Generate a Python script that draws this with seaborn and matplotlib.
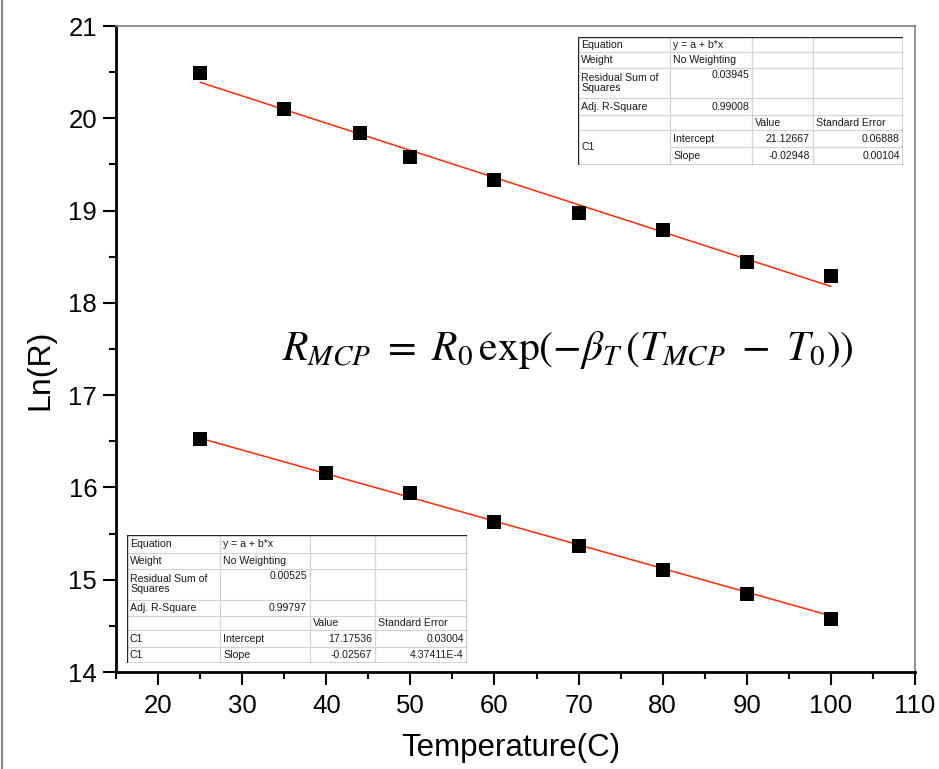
import numpy as np
import pandas as pd
import matplotlib
matplotlib.use("Agg")
import matplotlib.pyplot as plt
import seaborn as sns
from matplotlib import font_manager
from matplotlib.ticker import MultipleLocator
from matplotlib.lines import Line2D
from matplotlib.patches import Rectangle

# ---------------- data ----------------
temp_upper = [25, 35, 44, 50, 60, 70, 80, 90, 100]
lnr_upper = [20.49, 20.10, 19.84, 19.58, 19.33, 18.97, 18.79, 18.44, 18.29]
temp_lower = [25, 40, 50, 60, 70, 80, 90, 100]
lnr_lower = [16.52, 16.16, 15.935, 15.62, 15.36, 15.10, 14.84, 14.57]

fit_upper = (21.12667, -0.02948)   # intercept, slope
fit_lower = (17.17536, -0.02567)
fit_range = [25, 100]

x_ticks = [20, 30, 40, 50, 60, 70, 80, 90, 100, 110]
y_ticks = [14, 15, 16, 17, 18, 19, 20, 21]

x_label = "Temperature(C)"
y_label = "Ln(R)"
formula = (r"$R_{MCP}\ =\ R_0\,\mathrm{exp}\left(-\beta_T\,(T_{MCP}\ -\ T_0)\right)$")

table_upper = [
    ["Equation", "y = a + b*x", "", ""],
    ["Weight", "No Weighting", "", ""],
    ["Residual Sum of\nSquares", "0.03945", "", ""],
    ["Adj. R-Square", "0.99008", "", ""],
    ["", "", "Value", "Standard Error"],
    ["C1", "Intercept", "21.12667", "0.06888"],
    ["", "Slope", "-0.02948", "0.00104"],
]
table_lower = [
    ["Equation", "y = a + b*x", "", ""],
    ["Weight", "No Weighting", "", ""],
    ["Residual Sum of\nSquares", "0.00525", "", ""],
    ["Adj. R-Square", "0.99797", "", ""],
    ["", "", "Value", "Standard Error"],
    ["C1", "Intercept", "17.17536", "0.03004"],
    ["C1", "Slope", "-0.02567", "4.37411E-4"],
]

# ---------------- style ----------------
sns.set_theme(style="white")
names = {f.name for f in font_manager.fontManager.ttflist}
narrow = "Liberation Sans Narrow" if "Liberation Sans Narrow" in names else None
plt.rcParams["font.family"] = ["Liberation Sans", "DejaVu Sans"]
plt.rcParams["mathtext.fontset"] = "stix"

FW, FH = 939, 769
fig = plt.figure(figsize=(FW / 100, FH / 100), dpi=100)
ax = fig.add_axes([116 / FW, 1 - 672 / FH, (915 - 116) / FW, (672 - 26) / FH])

df_u = pd.DataFrame({"T": temp_upper, "L": lnr_upper})
df_l = pd.DataFrame({"T": temp_lower, "L": lnr_lower})
fx = np.array(fit_range, dtype=float)
df_fu = pd.DataFrame({"T": fx, "L": fit_upper[0] + fit_upper[1] * fx})
df_fl = pd.DataFrame({"T": fx, "L": fit_lower[0] + fit_lower[1] * fx})

red = "#FF2A00"
sns.lineplot(data=df_fu, x="T", y="L", ax=ax, color=red, lw=1.1, zorder=2)
sns.lineplot(data=df_fl, x="T", y="L", ax=ax, color=red, lw=1.1, zorder=2)
sns.scatterplot(data=df_u, x="T", y="L", ax=ax, marker="s", s=105, color="black",
                linewidth=0, zorder=3)
sns.scatterplot(data=df_l, x="T", y="L", ax=ax, marker="s", s=105, color="black",
                linewidth=0, zorder=3)

ax.set_xlim(15, 110)
ax.set_ylim(14, 21)
ax.set_xticks(x_ticks)
ax.set_yticks(y_ticks)
ax.xaxis.set_minor_locator(MultipleLocator(5))
ax.yaxis.set_minor_locator(MultipleLocator(0.5))
ax.tick_params(axis="both", which="major", direction="out", length=9.5, width=1.5,
               color="black", bottom=True, left=True, top=False, right=False)
ax.tick_params(axis="both", which="minor", direction="out", length=4.8, width=1.5,
               color="black", bottom=True, left=True, top=False, right=False)
ax.tick_params(axis="y", which="major", labelsize=18.5, pad=4, labelcolor="black")
xfam = [narrow, "Liberation Sans"] if narrow else ["Liberation Sans"]
ax.tick_params(axis="x", which="major", pad=6, labelcolor="black")
for lab in ax.get_xticklabels():
    lab.set_family(xfam)
    lab.set_fontsize(21 if narrow else 18.5)

for s in ["left", "bottom"]:
    ax.spines[s].set_color("black")
    ax.spines[s].set_linewidth(2.0)
for s in ["top", "right"]:
    ax.spines[s].set_color("#7f7f7f")
    ax.spines[s].set_linewidth(1.2)

ax.set_xlabel(x_label, fontsize=27 if narrow else 22.5, family=xfam, color="black",
              va="center")
ax.xaxis.set_label_coords((511 - 116) / 799, (672 - 748) / 646)
ax.set_ylabel(y_label, fontsize=23, color="black", va="center")
ax.yaxis.set_label_coords((40 - 116) / 799, (672 - 370) / 646)

fig.text(568 / FW, 1 - 350 / FH, formula, fontsize=30, ha="center", va="center",
         color="black")

# page border on the left
fig.add_artist(Line2D([2 / FW, 2 / FW], [0, 1], transform=fig.transFigure,
                      color="#8a8a8a", lw=1.6))


def draw_table(x0, y0, col_edges, row_edges, rows, merge_first=False):
    W = col_edges[-1]
    H = row_edges[-1]
    tax = fig.add_axes([x0 / FW, 1 - (y0 + H) / FH, W / FW, H / FH])
    tax.set_xlim(0, W)
    tax.set_ylim(H, 0)
    tax.axis("off")
    tax.add_patch(Rectangle((0, 0), W, H, facecolor="white", edgecolor="none",
                            zorder=0))
    grid = "#d4d4d4"
    for cx in col_edges[1:-1]:
        tax.plot([cx, cx], [0, H], color=grid, lw=0.9, zorder=1)
    for i, ry in enumerate(row_edges[1:-1], start=1):
        xs = 0
        if merge_first and i == len(row_edges) - 2:
            xs = col_edges[1]
        tax.plot([xs, W], [ry, ry], color=grid, lw=0.9, zorder=1)
    tax.add_patch(Rectangle((0, 0), W, H, facecolor="none", edgecolor="#222222",
                            lw=1.0, zorder=2))
    for r, row in enumerate(rows):
        top, bot = row_edges[r], row_edges[r + 1]
        for c, txt in enumerate(row):
            if not txt:
                continue
            left, right = col_edges[c], col_edges[c + 1]
            try:
                float(txt)
                isnum = True
            except ValueError:
                isnum = False
            if merge_first and c == 0 and r == len(rows) - 2:
                yc = (top + row_edges[r + 2]) / 2
            else:
                yc = (top + bot) / 2
            va = "center"
            if isnum and (bot - top) > 25:
                yc = top + 2
                va = "top"
            if isnum and c > 0:
                tax.text(right - 3, yc, txt, ha="right", va=va, fontsize=7.6,
                         color="#1a1a1a", linespacing=1.0)
            else:
                tax.text(left + 3, yc, txt, ha="left", va=va, fontsize=7.6,
                         color="#1a1a1a", linespacing=1.0)


draw_table(578, 37, [0, 92, 174, 235, 325], [0, 15, 31, 61, 78, 93, 110, 128],
           table_upper, merge_first=True)
draw_table(127, 535, [0, 93, 183, 248, 340], [0, 18, 34, 65, 81, 95, 112, 128],
           table_lower, merge_first=False)

fig.savefig("out.png", dpi=100, facecolor="white")
